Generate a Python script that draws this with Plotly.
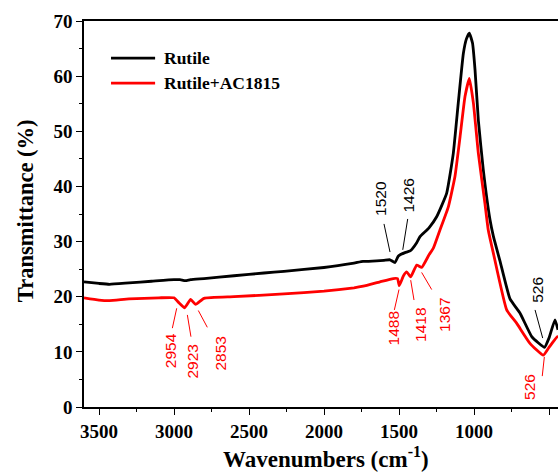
import plotly.graph_objects as go

# ---- data ----
rutile_wn = [3600, 3500, 3430, 3300, 3150, 3000, 2960, 2925, 2890, 2800, 2600, 2400, 2267,
             2000, 1800, 1740, 1650, 1600, 1560, 1527, 1504, 1460, 1426, 1382, 1360, 1300,
             1249, 1182, 1138, 1105, 1071, 1050, 1031, 1010, 993, 971, 938, 893, 871, 827,
             760, 693, 615, 570, 530, 500, 460, 440]
rutile_t = [22.7, 22.4, 22.25, 22.5, 22.8, 23.1, 23.1, 22.9, 23.1, 23.3, 23.8, 24.3, 24.6,
            25.3, 26.1, 26.4, 26.5, 26.6, 26.7, 26.2, 27.4, 28.0, 28.3, 29.8, 30.9, 32.5,
            34.5, 38.8, 46.0, 55.1, 64.1, 66.8, 67.8, 66.0, 61.1, 52.0, 43.0, 33.9, 31.0, 26.5,
            19.6, 17.0, 12.75, 11.6, 10.8, 12.5, 15.8, 14.0]

ac_wn = [3600, 3500, 3430, 3300, 3100, 3000, 2967, 2929, 2889, 2856, 2800, 2600, 2267,
         2000, 1800, 1738, 1627, 1538, 1510, 1498, 1470, 1449, 1422, 1382, 1349, 1300,
         1271, 1227, 1171, 1127, 1093, 1060, 1031, 1004, 971, 927, 905, 871, 782, 716,
         627, 538, 500, 445, 440]
ac_t = [19.8, 19.4, 19.3, 19.6, 19.8, 19.8, 18.9, 18.0, 19.5, 18.6, 19.7, 20.0, 20.5,
        21.0, 21.6, 21.9, 22.7, 23.3, 23.3, 22.0, 23.8, 24.5, 23.6, 25.75, 25.3, 27.6,
        28.8, 32.1, 36.3, 41.8, 49.0, 56.3, 59.6, 55.1, 46.0, 36.9, 32.1, 27.9, 17.6, 15.2,
        11.55, 9.4, 10.8, 12.75, 12.5]

series_names = ["Rutile", "Rutile+AC1815"]
series_colors = ["#000000", "#FF0000"]

# peak labels: text, text-center (wn, T), leader line start (wn, T), end (wn, T), color index
peak_labels = [
    ("1520", 1627, 37.9, 1600, 33.2, 1560, 28.1, 0),
    ("1426", 1438, 38.4, 1442, 34.1, 1475, 28.5, 0),
    ("526", 582, 21.2, 593, 17.6, 542, 12.5, 0),
    ("2954", 3027, 10.3, 2982, 17.9, 3011, 14.3, 1),
    ("2923", 2875, 8.2, 2911, 16.7, 2887, 12.75, 1),
    ("2853", 2693, 9.7, 2838, 17.5, 2778, 14.45, 1),
    ("1488", 1538, 14.3, 1500, 21.3, 1531, 17.6, 1),
    ("1418", 1353, 14.9, 1422, 23.0, 1400, 19.4, 1),
    ("1367", 1193, 16.7, 1349, 24.4, 1282, 21.3, 1),
    ("526", 631, 3.7, 531, 9.1, 545, 5.6, 1),
]

x_range = [3600, 440]
y_range = [0, 70]

SERIF = "Liberation Serif"
SANS = "Liberation Sans"

fig = go.Figure()
for wn, t, name, col in [(rutile_wn, rutile_t, series_names[0], series_colors[0]),
                          (ac_wn, ac_t, series_names[1], series_colors[1])]:
    fig.add_trace(go.Scatter(x=wn, y=t, mode="lines", name=name,
                             line=dict(color=col, width=2.8, shape="spline", smoothing=0.4),
                             showlegend=False))

shapes = []
annotations = []
for txt, tx, ty, x0, y0, x1, y1, ci in peak_labels:
    col = series_colors[ci]
    annotations.append(dict(x=tx, y=ty, xref="x", yref="y", text=txt, showarrow=False,
                            textangle=-90, xanchor="center", yanchor="middle",
                            font=dict(family=SANS, size=15.5, color=col)))
    shapes.append(dict(type="line", xref="x", yref="y", x0=x0, y0=y0, x1=x1, y1=y1,
                       line=dict(color=col, width=1)))

# custom legend
leg_y = [0.904, 0.839]
for i, name in enumerate(series_names):
    shapes.append(dict(type="line", xref="paper", yref="paper", x0=0.057, x1=0.150,
                       y0=leg_y[i], y1=leg_y[i],
                       line=dict(color=series_colors[i], width=2.8)))
    annotations.append(dict(x=0.165, y=leg_y[i], xref="paper", yref="paper", text=name,
                            showarrow=False, xanchor="left", yanchor="middle",
                            font=dict(family=SERIF, size=17.5, color="black", weight="bold")))

# axis titles
annotations.append(dict(x=0.51, y=-0.1736, xref="paper", yref="paper",
                        text="Wavenumbers (cm<sup>-1</sup>)", showarrow=False,
                        xanchor="center", yanchor="bottom",
                        font=dict(family=SERIF, size=23, color="black", weight="bold")))
annotations.append(dict(x=-0.1245, y=0.51, xref="paper", yref="paper",
                        text="Transmittance (%)", showarrow=False, textangle=-90,
                        xanchor="center", yanchor="middle",
                        font=dict(family=SERIF, size=22.5, color="black", weight="bold")))

fig.update_layout(
    width=558, height=475,
    margin=dict(l=84, r=0, t=21, b=68),
    paper_bgcolor="white", plot_bgcolor="white",
    shapes=shapes, annotations=annotations,
    showlegend=False,
)
fig.update_xaxes(range=x_range, showgrid=False, zeroline=False,
                 showline=True, linecolor="black", linewidth=1.6, mirror=True,
                 ticks="outside", ticklen=6, tickwidth=1.3, tickcolor="black",
                 tick0=500, dtick=500,
                 minor=dict(ticks="outside", ticklen=3.5, tickwidth=1.3, tickcolor="black", dtick=250, tick0=250),
                 tickfont=dict(family=SERIF, size=19, color="black", weight="bold"))
fig.update_yaxes(range=y_range, showgrid=False, zeroline=False,
                 showline=True, linecolor="black", linewidth=1.6, mirror=False,
                 ticks="outside", ticklen=6, tickwidth=1.3, tickcolor="black",
                 tick0=0, dtick=10,
                 minor=dict(ticks="outside", ticklen=3.5, tickwidth=1.3, tickcolor="black", dtick=5),
                 tickfont=dict(family=SERIF, size=19, color="black", weight="bold"))

fig.write_html("out.html")
